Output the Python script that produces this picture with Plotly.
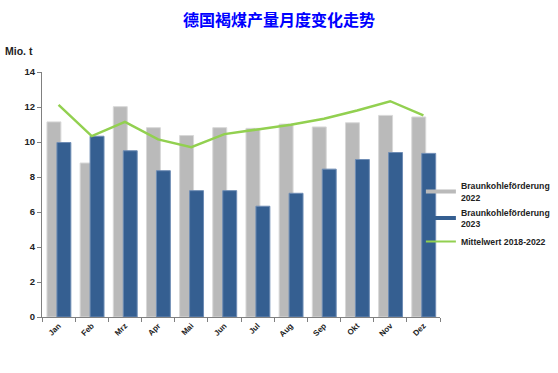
import plotly.graph_objects as go

months = ["Jan", "Feb", "Mrz", "Apr", "Mai", "Jun", "Jul", "Aug", "Sep", "Okt", "Nov", "Dez"]
foerd_2022 = [11.15, 8.8, 12.02, 10.82, 10.37, 10.82, 10.78, 11.02, 10.86, 11.1, 11.52, 11.43]
foerd_2023 = [9.97, 10.33, 9.5, 8.36, 7.22, 7.22, 6.33, 7.07, 8.45, 9.0, 9.4, 9.35]
mittel_2018_2022 = [12.12, 10.34, 11.15, 10.15, 9.7, 10.45, 10.72, 10.98, 11.33, 11.8, 12.33, 11.52]

title = "德国褐煤产量月度变化走势"
ylabel = "Mio. t"
names = ["Braunkohleförderung<br>2022", "Braunkohleförderung<br>2023", "Mittelwert 2018-2022"]

GRAY = "#BABABA"
BLUE = "#355F91"
GREEN = "#92D050"

fig = go.Figure()
fig.add_trace(go.Bar(
    x=months, y=foerd_2022, name=names[0], showlegend=False,
    marker=dict(color=GRAY, line=dict(color="#D8D8D8", width=1)),
    width=0.42, offset=-0.35,
))
fig.add_trace(go.Bar(
    x=months, y=foerd_2023, name=names[1], showlegend=False,
    marker=dict(color=BLUE, line=dict(color="#6F8DB5", width=1)),
    width=0.42, offset=-0.05,
))
fig.add_trace(go.Scatter(
    x=months, y=mittel_2018_2022, name=names[2], showlegend=False,
    mode="lines", line=dict(color=GREEN, width=2.5),
))
# legend entries (short line swatches as in the original)
for nm, col, w, grp in [(names[0], GRAY, 4, "a"), (names[1], BLUE, 4, "b"), (names[2], GREEN, 2, "c")]:
    fig.add_trace(go.Scatter(x=[None], y=[None], mode="lines", name=nm,
                             line=dict(color=col, width=w), legendgroup=grp, showlegend=True))

fig.update_layout(
    width=558, height=373,
    barmode="overlay",
    plot_bgcolor="white", paper_bgcolor="white",
    margin=dict(l=42, r=118, t=72, b=56, autoexpand=False),
    title=dict(text="<b>" + title + "</b>", x=0.5, xanchor="center", y=0.944, yanchor="middle",
               font=dict(family="Noto Sans CJK SC", size=16, color="#0000FF")),
    showlegend=True,
    legend=dict(x=0.952, y=0.585, xanchor="left", yanchor="top", traceorder="grouped",
                font=dict(family="Liberation Sans, Arial", size=8.7, color="#222222", weight="bold"),
                tracegroupgap=1, bgcolor="rgba(0,0,0,0)"),
    font=dict(family="Liberation Sans, Arial", color="#222222"),
)
fig.update_xaxes(
    type="category", tickangle=-45, showline=True, linecolor="#808080", linewidth=1,
    ticks="outside", tickson="boundaries", ticklen=4, tickcolor="#808080",
    tickfont=dict(family="Liberation Sans, Arial", size=8, color="#222222", weight="bold"),
    showgrid=False, range=[-0.5, 11.5],
)
fig.update_yaxes(
    range=[0, 14], dtick=2, showline=True, linecolor="#808080", linewidth=1,
    ticks="outside", ticklen=4, tickcolor="#808080", showgrid=False, zeroline=False,
    tickfont=dict(family="Liberation Sans, Arial", size=9.5, color="#222222", weight="bold"),
)
fig.add_annotation(text="<b>" + ylabel + "</b>", xref="paper", yref="paper",
                   x=-0.098, y=1.055, xanchor="left", yanchor="bottom", showarrow=False,
                   font=dict(family="Liberation Sans, Arial", size=10.5, color="#222222"))

fig.write_html("out.html", config={"displayModeBar": False},
               post_script="document.body.style.margin='0';")
